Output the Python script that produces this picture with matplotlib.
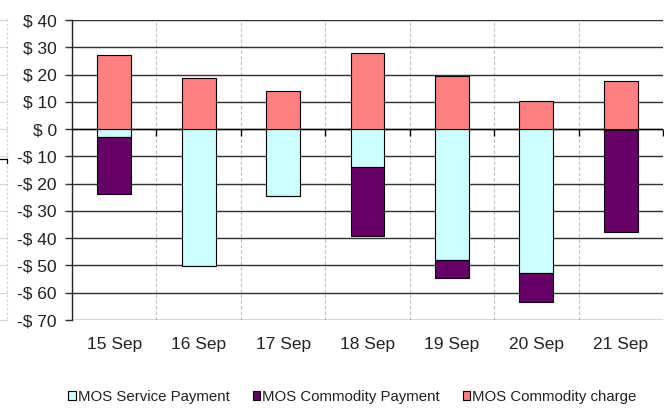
import matplotlib
matplotlib.use("Agg")
import matplotlib.pyplot as plt
import matplotlib.transforms as mtransforms
from matplotlib.lines import Line2D
from matplotlib.ticker import FuncFormatter, MultipleLocator
import numpy as np

plt.rcParams['font.family'] = ['Liberation Sans', 'DejaVu Sans']

categories = ["15 Sep", "16 Sep", "17 Sep", "18 Sep", "19 Sep", "20 Sep", "21 Sep"]
service_payment = [-3.0, -50.2, -24.6, -13.9, -48.0, -52.9, -0.5]
commodity_payment = [-20.8, 0.0, 0.0, -25.2, -6.6, -10.4, -37.1]
commodity_charge = [27.1, 18.7, 13.8, 27.8, 19.6, 10.4, 17.5]
series_names = ["MOS Service Payment", "MOS Commodity Payment", "MOS Commodity charge"]

c_service = "#CCFFFF"
c_cpay = "#660066"
c_charge = "#FF8080"

fig = plt.figure(figsize=(6.64, 4.08), dpi=100)
ax = fig.add_axes([72/664, 1-320/408, 591/664, 300/408])

x = np.arange(len(categories))
w = 0.40
ax.bar(x, service_payment, w, color=c_service, edgecolor="black", linewidth=0.8, zorder=3)
ax.bar(x, commodity_payment, w, bottom=service_payment, color=c_cpay, edgecolor="black", linewidth=0.8, zorder=3)
ax.bar(x, commodity_charge, w, color=c_charge, edgecolor="black", linewidth=0.8, zorder=3)

ax.set_ylim(-70, 40)
ax.set_xlim(-0.5, len(categories) - 0.5)
ax.yaxis.set_major_locator(MultipleLocator(10))
ax.yaxis.set_major_formatter(FuncFormatter(lambda v, p: f"$ {int(round(v))}" if v >= 0 else f"-$ {int(round(-v))}"))
ax.grid(axis="y", color="#303030", linewidth=1.0, zorder=0)

bounds = np.arange(len(categories) + 1) - 0.5
for b in bounds[1:-1]:
    ax.axvline(b, color="#C0C0C0", linestyle=(0, (3, 2)), linewidth=0.8, zorder=0)
ax.axhline(0, color="black", linewidth=1.0, zorder=2)
ax.plot(bounds[1:], np.zeros(len(bounds) - 1), linestyle="none", marker=3, ms=5,
        mec="black", mew=1.0, zorder=2, clip_on=False)

ax.set_xticks(x)
ax.set_xticklabels(categories)
ax.tick_params(axis="x", length=0, pad=12, labelsize=12.5, colors="#222222")
ax.tick_params(axis="y", length=5, width=1, color="#303030", labelsize=12.5, labelcolor="#222222", pad=6)

for s in ["top", "right", "bottom"]:
    ax.spines[s].set_visible(False)
ax.spines["left"].set_color("#222222")
ax.spines["left"].set_linewidth(1.0)

handles = [
    plt.Rectangle((0, 0), 1, 1, facecolor=c_service, edgecolor="black", linewidth=0.8),
    plt.Rectangle((0, 0), 1, 1, facecolor=c_cpay, edgecolor="black", linewidth=0.8),
    plt.Rectangle((0, 0), 1, 1, facecolor=c_charge, edgecolor="black", linewidth=0.8),
]
fig.legend(handles, series_names, loc="center", bbox_to_anchor=(352.5/664, 1-397/408), ncol=3,
           frameon=False, fontsize=10.8, handlelength=0.48, handleheight=0.48,
           handletextpad=0.17, columnspacing=1.5, labelcolor="#222222", borderpad=0.2)

# cut-off neighbouring element at the far left edge
tr = mtransforms.blended_transform_factory(fig.transFigure, ax.transData)
for yv in np.arange(-70, 41, 10):
    fig.add_artist(Line2D([0, 7/664], [yv, yv], transform=tr, color="#D8D8D8", linewidth=0.8))
fig.add_artist(Line2D([7/664, 7/664], [40.5, -70.5], transform=tr, color="#D0D0D0",
                      linewidth=0.8, linestyle=(0, (2, 2))))
fig.add_artist(Line2D([0, 7/664, 7/664], [-11, -11, -12.5], transform=tr, color="black", linewidth=0.9))

fig.savefig("out.png", dpi=100)
